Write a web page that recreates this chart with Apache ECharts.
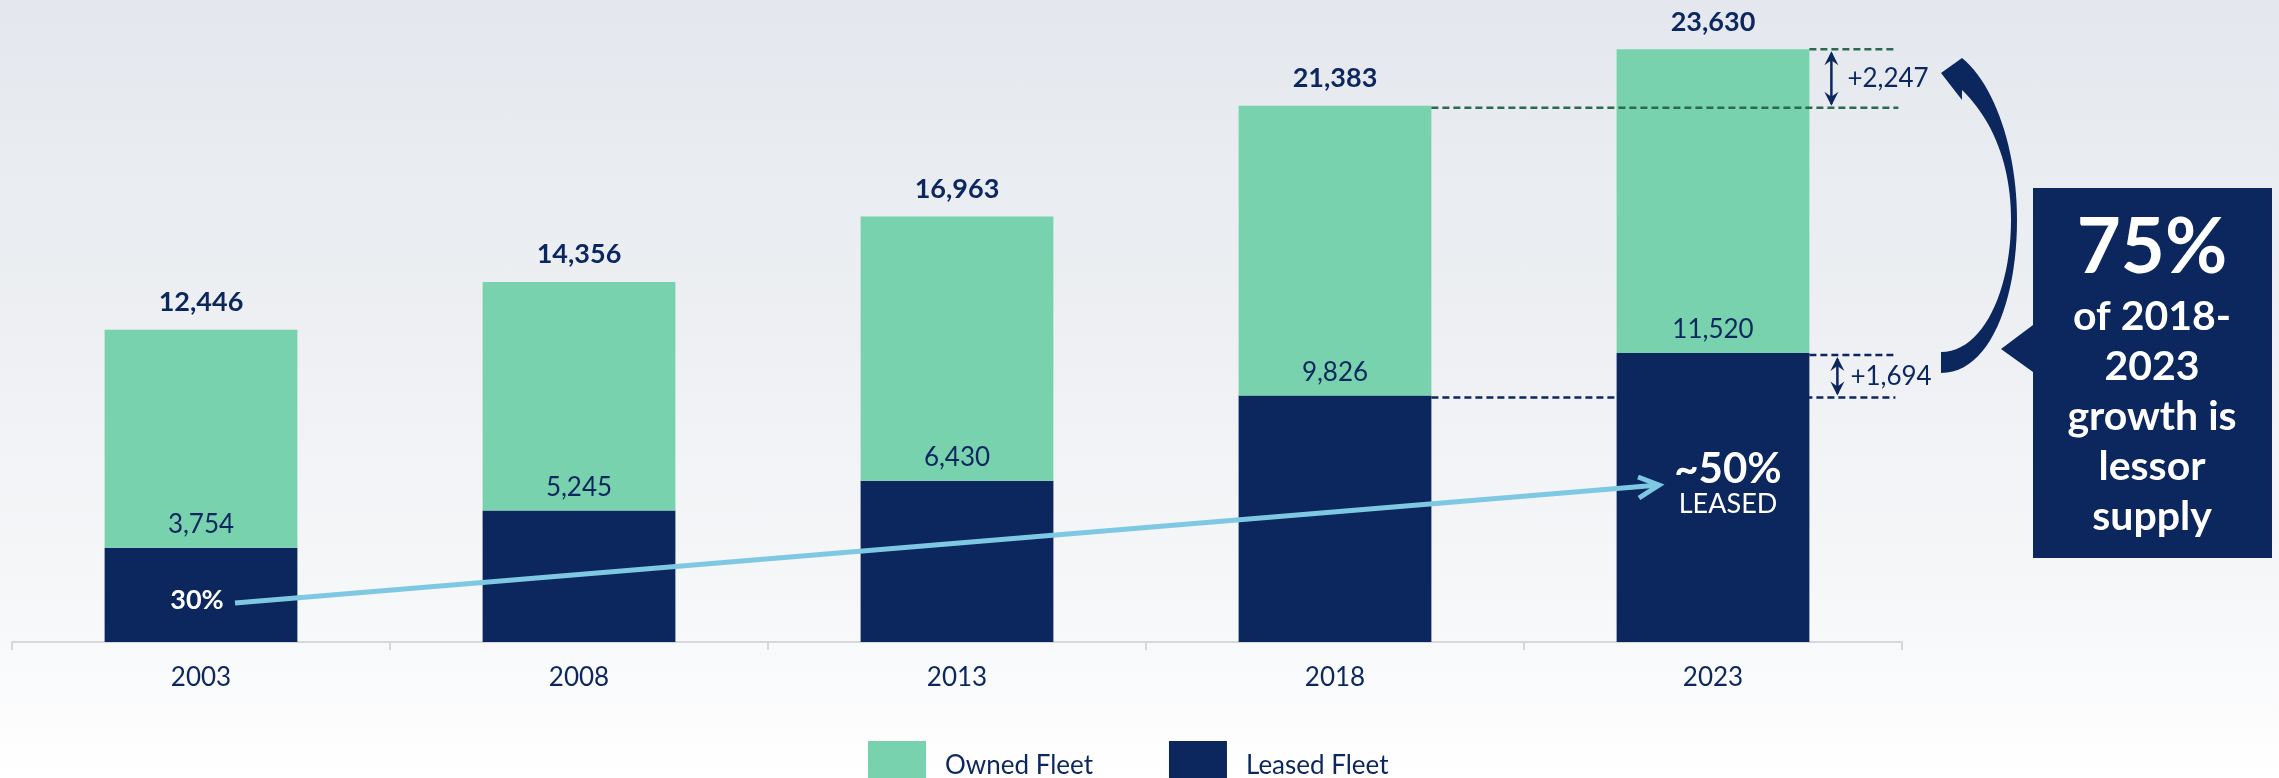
<!DOCTYPE html>
<html>
<head>
<meta charset="utf-8">
<script src="https://cdn.jsdelivr.net/npm/echarts@6/dist/echarts.min.js"></script>
<style>
  html, body { margin: 0; padding: 0; }
  body { background: linear-gradient(#e4e8ee 0%, #eef0f3 45%, #f7f8fa 80%, #ffffff 100%); }
  #chart { width: 2279px; height: 778px; }
</style>
</head>
<body>
<div id="chart"></div>
<script>
// fleet by year
const years = ['2003', '2008', '2013', '2018', '2023']
const leasedFleet = [3754, 5245, 6430, 9826, 11520]
const ownedFleet = [8692, 9111, 10533, 11557, 12110]
const totalFleet = [12446, 14356, 16963, 21383, 23630]

// annotation texts
const shareStart = '30%'
const shareEnd = '~50%'
const shareEndSub = 'LEASED'
const calloutBig = '75%'
const calloutLines = ['of 2018-', '2023', 'growth is', 'lessor', 'supply']

const NAVY = '#0b275e'
const GREEN = '#79d2ae'
const SKY = '#7ec8e3'
const DASH_GREEN = '#2b6a4f'
const FONT = 'Lato'

const fmt = v => v.toLocaleString('en-US')

const chart = echarts.init(document.getElementById('chart'))

const option = {
  animation: false,
  backgroundColor: 'transparent',
  textStyle: { fontFamily: FONT },
  grid: { left: 12, right: 377, top: 15, bottom: 136 },
  legend: {
    data: ['Owned Fleet', 'Leased Fleet'],
    left: 863,
    top: 736,
    icon: 'rect',
    itemWidth: 58,
    itemHeight: 50,
    itemGap: 76,
    textStyle: { fontFamily: FONT, fontSize: 26, color: NAVY, padding: [0, 0, 0, 14] }
  },
  xAxis: {
    type: 'category',
    data: years,
    axisLine: { lineStyle: { color: '#d5d7db', width: 2 } },
    axisTick: { show: true, length: 8, lineStyle: { color: '#d5d7db', width: 2 } },
    axisLabel: { fontFamily: FONT, fontSize: 26, color: NAVY, margin: 23 }
  },
  yAxis: {
    type: 'value',
    min: 0,
    max: 25000,
    show: false,
    splitLine: { show: false }
  },
  series: [
    {
      name: 'Leased Fleet',
      type: 'bar',
      stack: 'fleet',
      barWidth: '51%',
      data: leasedFleet,
      itemStyle: { color: NAVY },
      label: {
        show: true,
        position: 'top',
        distance: 10,
        fontFamily: FONT,
        fontSize: 26,
        color: NAVY,
        formatter: p => fmt(p.value)
      }
    },
    {
      name: 'Owned Fleet',
      type: 'bar',
      stack: 'fleet',
      barWidth: '51%',
      data: ownedFleet,
      itemStyle: { color: GREEN },
      label: {
        show: true,
        position: 'top',
        distance: 14,
        fontFamily: FONT,
        fontSize: 27,
        fontWeight: 'bold',
        color: NAVY,
        formatter: p => fmt(totalFleet[p.dataIndex])
      }
    }
  ]
}

chart.setOption(option)

// annotations placed from the chart's own scales
const toPx = (i, v) => chart.convertToPixel({ xAxisIndex: 0, yAxisIndex: 0 }, [i, v])
const step = toPx(1, 0)[0] - toPx(0, 0)[0]
const halfBar = step * 0.51 / 2
const base = toPx(0, 0)[1]
const right4 = toPx(4, 0)[0] + halfBar
const right3 = toPx(3, 0)[0] + halfBar
const yTot3 = toPx(3, totalFleet[3])[1] + 2
const yTot4 = toPx(4, totalFleet[4])[1]
const yLea3 = toPx(3, leasedFleet[3])[1] + 2
const yLea4 = toPx(4, leasedFleet[4])[1] + 2

const dashed = (x1, x2, y, color) => ({
  type: 'line',
  shape: { x1, y1: y, x2, y2: y },
  style: { stroke: color, lineWidth: 2.5, lineDash: [7, 4] },
  z: 10
})

const doubleArrow = (x, y1, y2) => [
  { type: 'line', shape: { x1: x, y1: y1 + 4, x2: x, y2: y2 - 4 }, style: { stroke: NAVY, lineWidth: 2.5 }, z: 10 },
  { type: 'polygon', shape: { points: [[x, y1 + 2], [x - 7, y1 + 16], [x, y1 + 11], [x + 7, y1 + 16]] }, style: { fill: NAVY }, z: 10 },
  { type: 'polygon', shape: { points: [[x, y2 - 2], [x - 7, y2 - 16], [x, y2 - 11], [x + 7, y2 - 16]] }, style: { fill: NAVY }, z: 10 }
]

const deltaText = (x, y, text) => ({
  type: 'text',
  x, y,
  style: { text, fontFamily: FONT, fontSize: 26, fill: NAVY, align: 'left', verticalAlign: 'middle' },
  z: 10
})

// sample a cubic bezier into points (for the curved arrow outline)
function bez(p0, p1, p2, p3, n) {
  const pts = []
  for (let k = 1; k <= n; k++) {
    const t = k / n, u = 1 - t
    pts.push([
      u * u * u * p0[0] + 3 * u * u * t * p1[0] + 3 * u * t * t * p2[0] + t * t * t * p3[0],
      u * u * u * p0[1] + 3 * u * u * t * p1[1] + 3 * u * t * t * p2[1] + t * t * t * p3[1]
    ])
  }
  return pts
}

const curvePts = [
  [1941, 73], [1962, 58],
  ...bez([1962, 58], [1995, 85], [2017, 150], [2017, 220], 24),
  ...bez([2017, 220], [2017, 300], [1990, 373], [1941, 373], 24),
  [1941, 352],
  ...bez([1941, 352], [1983, 352], [2011, 290], [2011, 220], 24),
  ...bez([2011, 220], [2011, 165], [1993, 120], [1962, 90], 24),
  [1962, 100]
]

const c0 = toPx(0, 0)[0]
const c4 = toPx(4, 0)[0]
const lineStart = [c0 + 34, base - 39]
const lineEnd = [c4 - 54, base - 157]

const graphic = [
  dashed(right3, right4 + 89, yTot3, DASH_GREEN),
  dashed(right4, right4 + 84, yTot4, DASH_GREEN),
  dashed(right3, right4 + 86, yLea3, NAVY),
  dashed(right4, right4 + 84, yLea4, NAVY),
  ...doubleArrow(right4 + 22, yTot4, yTot3),
  ...doubleArrow(right4 + 28, yLea4, yLea3),
  deltaText(right4 + 38, (yTot4 + yTot3) / 2, '+' + fmt(totalFleet[4] - totalFleet[3])),
  deltaText(right4 + 41, (yLea4 + yLea3) / 2, '+' + fmt(leasedFleet[4] - leasedFleet[3])),
  // trend arrow 30% -> ~50%
  {
    type: 'line',
    shape: { x1: lineStart[0], y1: lineStart[1], x2: lineEnd[0], y2: lineEnd[1] },
    style: { stroke: SKY, lineWidth: 5 },
    z: 10
  },
  {
    type: 'polyline',
    shape: { points: [[lineEnd[0] - 21, lineEnd[1] - 8], lineEnd, [lineEnd[0] - 20, lineEnd[1] + 13]] },
    style: { stroke: SKY, lineWidth: 5, fill: null },
    z: 10
  },
  {
    type: 'text',
    x: c0 - 4, y: base - 42,
    style: { text: shareStart, fontFamily: FONT, fontSize: 27, fontWeight: 'bold', fill: '#fff', align: 'center', verticalAlign: 'middle' },
    z: 10
  },
  {
    type: 'text',
    x: c4 + 15, y: base - 193,
    style: {
      text: '{b|' + shareEnd + '}\n{s|' + shareEndSub + '}',
      align: 'center', verticalAlign: 'top', fill: '#fff',
      rich: {
        b: { fontFamily: FONT, fontSize: 42, fontWeight: 'bold', lineHeight: 40, fill: '#fff' },
        s: { fontFamily: FONT, fontSize: 27, lineHeight: 30, fill: '#fff' }
      }
    },
    z: 10
  },
  // curved arrow
  {
    type: 'polygon',
    shape: { points: curvePts },
    style: { fill: NAVY },
    z: 10
  },
  // callout box
  {
    type: 'polygon',
    shape: { points: [[2033, 188], [2272, 188], [2272, 558], [2033, 558], [2033, 372], [2001, 349], [2033, 325]] },
    style: { fill: NAVY },
    z: 10
  },
  {
    type: 'text',
    x: 2152, y: 204,
    style: {
      text: '{b|' + calloutBig + '}\n' + calloutLines.map(t => '{s|' + t + '}').join('\n'),
      align: 'center', verticalAlign: 'top', fill: '#fff',
      rich: {
        b: { fontFamily: FONT, fontSize: 76, fontWeight: 'bold', lineHeight: 88, fill: '#fff' },
        s: { fontFamily: FONT, fontSize: 41, fontWeight: 'bold', lineHeight: 50, fill: '#fff' }
      }
    },
    z: 11
  }
]

chart.setOption({ graphic })
</script>
</body>
</html>
